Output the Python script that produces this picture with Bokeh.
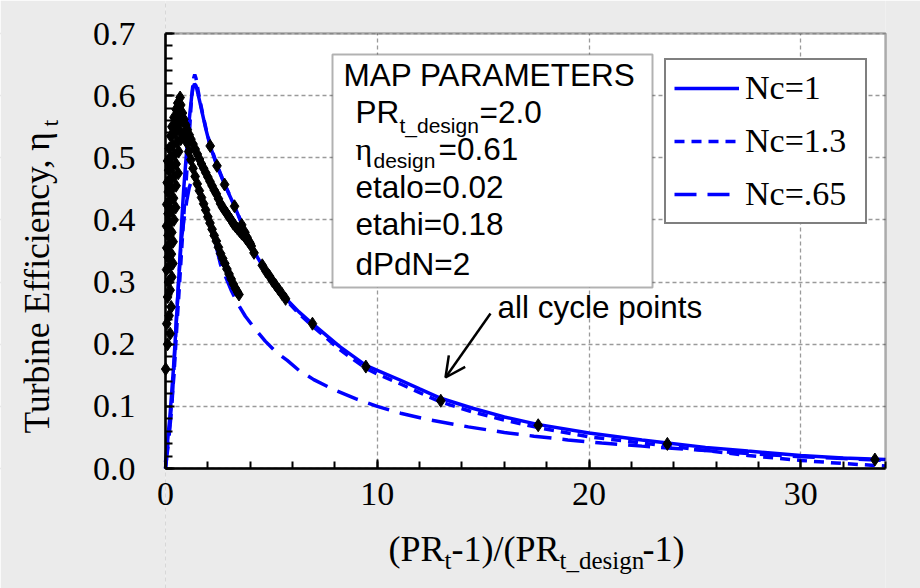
import numpy as np
from bokeh.plotting import figure
from bokeh.models import (FixedTicker, PrintfTickFormatter, Label, BoxAnnotation, Arrow,
                          OpenHead, Legend, LegendItem, Range1d)
from bokeh.embed import file_html
from bokeh.resources import INLINE

# ---------------- data ----------------
# Nc = 1 (solid)
nc1_x = [0.0, 0.2, 0.38, 0.5, 0.61, 0.7, 0.77, 0.86, 0.95, 1.02, 1.09, 1.17, 1.24, 1.30, 1.37,
         1.44, 1.52, 1.62, 1.75, 1.9, 2.11, 2.43, 2.79, 3.26, 3.78, 4.18, 4.57, 5.2, 5.67, 6.3,
         6.94, 7.33, 8.2, 9.46, 10.0, 11.1, 12.0, 13.0, 14.5, 16.0, 17.57, 20.0, 22.5, 23.7,
         25.5, 27.5, 30.0, 32.0, 34.0]
nc1_y = [0.01, 0.08, 0.163, 0.23, 0.297, 0.35, 0.40, 0.45, 0.49, 0.52, 0.55, 0.578, 0.60, 0.613,
         0.619, 0.616, 0.605, 0.59, 0.57, 0.547, 0.519, 0.487, 0.457, 0.422, 0.379, 0.349, 0.327,
         0.295, 0.274, 0.252, 0.233, 0.222, 0.197, 0.166, 0.158, 0.142, 0.128, 0.113, 0.097,
         0.083, 0.071, 0.057, 0.046, 0.041, 0.034, 0.028, 0.021, 0.017, 0.0145]

# Nc = 1.3 (short dash)
nc13_x = [0.0, 0.2, 0.4, 0.52, 0.65, 0.75, 0.85, 0.95, 1.05, 1.13, 1.2, 1.27, 1.33, 1.38, 1.44,
          1.52, 1.62, 1.75, 1.9, 2.11, 2.43, 2.79, 3.26, 3.78, 4.18, 4.57, 5.2, 5.67, 6.3, 6.94,
          7.33, 8.2, 9.46, 10.0, 11.1, 12.0, 13.0, 14.5, 16.0, 17.57, 20.0, 22.5, 25.0, 27.5,
          30.0, 32.0, 34.0]
nc13_y = [0.0, 0.07, 0.15, 0.22, 0.29, 0.345, 0.40, 0.45, 0.50, 0.54, 0.58, 0.61, 0.628, 0.634,
          0.628, 0.612, 0.593, 0.572, 0.549, 0.521, 0.489, 0.458, 0.423, 0.38, 0.35, 0.327,
          0.294, 0.272, 0.249, 0.229, 0.218, 0.192, 0.161, 0.152, 0.136, 0.122, 0.107, 0.091,
          0.078, 0.066, 0.051, 0.041, 0.031, 0.021, 0.013, 0.008, 0.004]

# Nc = .65 (long dash)
nc065_x = [0.0, 0.15, 0.3, 0.42, 0.53, 0.64, 0.74, 0.87, 1.0, 1.12, 1.25, 1.38, 1.5, 1.75, 2.0,
           2.27, 2.6, 3.1, 3.4, 3.77, 4.2, 4.71, 5.2, 5.75, 6.3, 7.0, 8.0, 9.0, 10.0, 11.1, 12.5,
           14.3, 16.0, 17.4, 19.0, 20.6, 22.5, 25.0, 27.5, 30.0, 32.0, 34.0]
nc065_y = [0.0, 0.045, 0.1, 0.175, 0.25, 0.31, 0.365, 0.40, 0.43, 0.452, 0.465, 0.466, 0.46,
           0.435, 0.41, 0.375, 0.328, 0.287, 0.266, 0.245, 0.226, 0.205, 0.188, 0.174, 0.158,
           0.143, 0.126, 0.112, 0.1, 0.089, 0.078, 0.067, 0.058, 0.052, 0.046, 0.041, 0.036,
           0.03, 0.024, 0.019, 0.016, 0.013]

# all cycle points: low-PR cluster
cluster_x = [0.01, 0.1, 0.22, 0.06, 0.17, 0.27, 0.1, 0.22, 0.14, 0.3, 0.05, 0.2, 0.35, 0.12,
             0.28, 0.06, 0.2, 0.36, 0.12, 0.3, 0.05, 0.2, 0.4, 0.12, 0.3, 0.48, 0.06, 0.2, 0.38,
             0.13, 0.3, 0.5, 0.08, 0.22, 0.4, 0.6, 0.15, 0.32, 0.5, 0.1, 0.25, 0.42, 0.62, 0.18,
             0.35, 0.55, 0.72, 0.25, 0.45, 0.65, 0.3, 0.5, 0.7, 0.4, 0.6, 0.5, 0.65, 0.58, 0.69]
cluster_y = [0.16, 0.2, 0.217, 0.233, 0.246, 0.26, 0.276, 0.287, 0.30, 0.308, 0.32, 0.325, 0.33,
             0.34, 0.345, 0.355, 0.36, 0.365, 0.375, 0.38, 0.39, 0.395, 0.4, 0.41, 0.415, 0.42,
             0.425, 0.43, 0.435, 0.445, 0.45, 0.455, 0.46, 0.465, 0.47, 0.475, 0.48, 0.485, 0.49,
             0.495, 0.5, 0.505, 0.51, 0.515, 0.52, 0.525, 0.53, 0.535, 0.54, 0.545, 0.55, 0.555,
             0.56, 0.565, 0.57, 0.578, 0.58, 0.588, 0.597]
# lower (steep) branch
branch_a_x = [0.8, 0.9, 1.0, 1.1, 1.2, 1.3, 1.4, 1.5, 1.6, 1.7, 1.8, 1.9, 2.0, 2.1, 2.2, 2.3,
              2.4, 2.5, 2.6, 2.7, 2.8, 2.9, 3.0, 3.1, 3.2, 3.3, 3.4, 3.47]
branch_a_y = [0.56, 0.54, 0.525, 0.51, 0.497, 0.483, 0.47, 0.458, 0.447, 0.436, 0.426, 0.416,
              0.405, 0.395, 0.385, 0.375, 0.366, 0.356, 0.346, 0.338, 0.33, 0.321, 0.313, 0.305,
              0.297, 0.29, 0.284, 0.28]
# middle branch
branch_b_x = [0.72, 0.8, 0.87, 0.95, 1.03, 1.12, 1.2, 1.3, 1.4, 1.5, 1.6, 1.7, 1.8, 1.9, 2.0,
              2.1, 2.2, 2.3, 2.4, 2.5, 2.6, 2.7, 2.8, 2.9, 3.0, 3.1, 3.2, 3.3, 3.4, 3.5, 3.6,
              3.7, 3.8, 3.9, 4.0]
branch_b_y = [0.585, 0.572, 0.562, 0.553, 0.545, 0.537, 0.53, 0.522, 0.514, 0.506, 0.498, 0.49,
              0.483, 0.476, 0.469, 0.462, 0.455, 0.448, 0.442, 0.434, 0.426, 0.42, 0.415, 0.41,
              0.405, 0.4, 0.394, 0.39, 0.386, 0.382, 0.378, 0.375, 0.37, 0.366, 0.362]
# points along the Nc=1 line
branch_c_x = [2.11, 2.43, 2.79, 3.26, 3.6, 3.75, 3.85, 3.95, 4.05, 4.18, 4.57, 4.75, 4.9, 5.05,
              5.2, 5.35, 5.5, 5.67, 6.94, 9.46, 13.0, 17.6, 23.7, 33.5]
branch_c_y = [0.519, 0.487, 0.457, 0.422, 0.392, 0.38, 0.372, 0.365, 0.358, 0.347, 0.327, 0.317,
              0.31, 0.302, 0.295, 0.288, 0.281, 0.273, 0.233, 0.164, 0.109, 0.0696, 0.0396,
              0.0144]

x_ticks = [0, 10, 20, 30]
y_ticks = [0.0, 0.1, 0.2, 0.3, 0.4, 0.5, 0.6, 0.7]
legend_labels = ["Nc=1", "Nc=1.3", "Nc=.65"]

# ---------------- layout ----------------
W, H = 920, 588
# pixel box of the plotting area inside the window
PL, PR_, PT, PB = 165, 885, 33, 468
X_MAX, Y_MAX = 34.0, 0.7
SX = (PR_ - PL) / X_MAX          # px per x unit
SY = (PB - PT) / Y_MAX           # px per y unit
BLUE = "#0000ff"
GREY_BG = "#ebebeb"
SERIF = "Liberation Serif"
SANS = "Liberation Sans"
BASE_SHIFT = 0.35                # em correction for the alphabetic baseline


def dx(px):
    return (px - PL) / SX


def dy(py):
    return (PB - py) / SY


p = figure(width=W, height=H, output_backend="svg", toolbar_location=None,
           x_range=Range1d(dx(0), dx(W)), y_range=Range1d(dy(H), dy(0)),
           min_border_left=0, min_border_right=0, min_border_top=0, min_border_bottom=0,
           background_fill_color="white", border_fill_color=GREY_BG)
p.outline_line_color = None

p.xaxis.ticker = FixedTicker(ticks=x_ticks, minor_ticks=list(np.arange(0, 34.01, 2)))
p.yaxis.ticker = FixedTicker(ticks=y_ticks, minor_ticks=list(np.arange(0, 0.7001, 0.02)))
p.yaxis.formatter = PrintfTickFormatter(format="%.1f")
p.xaxis.fixed_location = 0
p.yaxis.fixed_location = 0
p.xaxis.bounds = (0, X_MAX)
p.yaxis.bounds = (0, Y_MAX)
for ax in (p.xaxis, p.yaxis):
    ax.axis_line_color = "black"
    ax.axis_line_width = 2.5
    ax.major_tick_in = 9
    ax.major_tick_out = 0
    ax.minor_tick_in = 7
    ax.minor_tick_out = 0
    ax.major_tick_line_width = 2
    ax.minor_tick_line_width = 2
    ax.major_label_text_font = SERIF
    ax.major_label_text_font_size = "34px"
    ax.major_label_text_color = "black"
p.yaxis.major_label_standoff = 30
p.xaxis.major_label_standoff = 14

for g in (p.xgrid, p.ygrid):
    g.grid_line_color = "#9a9a9a"
    g.grid_line_dash = "4 3"
    g.grid_line_width = 1.3

# grey surround (covers grid lines outside the plotting area)
for kw in (dict(right=0), dict(left=X_MAX), dict(left=0, right=X_MAX, bottom=Y_MAX),
           dict(left=0, right=X_MAX, top=0)):
    p.add_layout(BoxAnnotation(fill_color=GREY_BG, fill_alpha=1.0, line_color=None,
                               level="underlay", **kw))

r1 = p.line(nc1_x, nc1_y, line_color=BLUE, line_width=3.5)
r2 = p.line(nc13_x, nc13_y, line_color=BLUE, line_width=3.5, line_dash="10 7")
r3 = p.line(nc065_x, nc065_y, line_color=BLUE, line_width=3.5, line_dash="22 11")

pts_x = cluster_x + branch_a_x + branch_b_x + branch_c_x
pts_y = cluster_y + branch_a_y + branch_b_y + branch_c_y
p.scatter(pts_x, pts_y, marker="diamond", size=13, color="black")

# plot border
p.add_layout(BoxAnnotation(left=0, right=X_MAX, bottom=0, top=Y_MAX, fill_alpha=0.0,
                           line_color="black", line_width=2.5, level="guide"))

# MAP PARAMETERS box
p.add_layout(BoxAnnotation(left=dx(332), right=dx(652), top=dy(54), bottom=dy(287),
                           fill_color="white", fill_alpha=1.0, line_color="black",
                           line_width=2))


def lab(text, px, py, size, font=SANS, angle=0.0):
    # (px, py) = left end of the text baseline, in window pixels
    if angle:
        px = px - BASE_SHIFT * size
    else:
        py = py - BASE_SHIFT * size
    p.add_layout(Label(x=dx(px), y=dy(py), text=text, text_font=font,
                       text_font_size=f"{size}px", text_color="black",
                       text_baseline="alphabetic", text_align="left", angle=angle))


lab("MAP PARAMETERS", 343, 86, 31.5)
lab("PR", 355, 123, 31.5)
lab("t_design", 399, 132, 21)
lab("=2.0", 479, 123, 31.5)
lab("η", 355, 160, 32, font=SERIF)
lab("design", 373, 167, 21)
lab("=0.61", 438, 160, 31.5)
lab("etalo=0.02", 355, 198, 31.5)
lab("etahi=0.18", 355, 235, 31.5)
lab("dPdN=2", 355, 275, 31.5)

lab("all cycle points", 497, 318, 31.5)
p.add_layout(Arrow(end=OpenHead(size=20, line_width=2.5, line_color="black"),
                   x_start=dx(490), y_start=dy(313), x_end=dx(445), y_end=dy(377),
                   line_width=2.5, line_color="black"))

# axis titles
lab("Turbine Efficiency, η", 49, 433, 35.5, font=SERIF, angle=np.pi / 2)
lab("t", 58, 126, 24, font=SERIF, angle=np.pi / 2)
lab("(PR", 388, 561, 36, font=SERIF)
lab("t", 444, 569, 25, font=SERIF)
lab("-1)/(PR", 451, 561, 36, font=SERIF)
lab("t_design", 559, 569, 25, font=SERIF)
lab("-1)", 642, 561, 36, font=SERIF)

legend = Legend(items=[LegendItem(label=legend_labels[0], renderers=[r1]),
                       LegendItem(label=legend_labels[1], renderers=[r2]),
                       LegendItem(label=legend_labels[2], renderers=[r3])],
                location=(664, H - 224))
legend.label_text_font = SERIF
legend.label_text_font_size = "34px"
legend.label_text_color = "black"
legend.glyph_width = 65
legend.glyph_height = 40
legend.label_height = 40
legend.label_width = 112
legend.label_standoff = 6
legend.spacing = 13
legend.padding = 8
legend.margin = 0
legend.border_line_color = "black"
legend.border_line_width = 2
legend.background_fill_color = "white"
legend.background_fill_alpha = 1.0
p.add_layout(legend, "center")

open("out.html", "w").write(file_html(p, INLINE))
